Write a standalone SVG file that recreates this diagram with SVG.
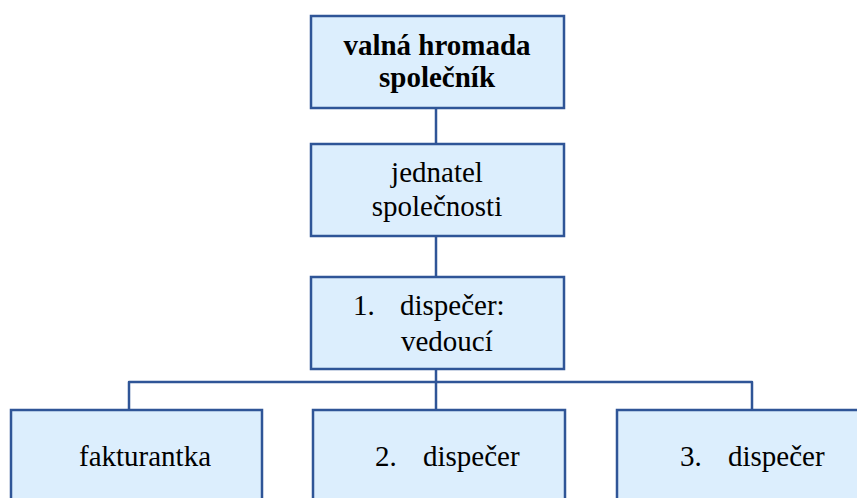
<svg xmlns="http://www.w3.org/2000/svg" width="857" height="498" viewBox="0 0 857 498">
<style>
.box{fill:#DCEEFD;stroke:#2F5597;stroke-width:2.5}
.conn{fill:none;stroke:#2F5597;stroke-width:2.5;stroke-linejoin:round}
.t{font-family:"Liberation Serif","DejaVu Serif",serif;font-size:29px;fill:#000}
.b{font-weight:bold}
.c{text-anchor:middle}
</style>
<rect width="857" height="498" fill="#fff"/>
<g id="connectors">
<line class="conn" x1="436" y1="108" x2="436" y2="144"/>
<line class="conn" x1="436" y1="236" x2="436" y2="277"/>
<line class="conn" x1="436" y1="369" x2="436" y2="410"/>
<path class="conn" d="M129,410 V382 H752 V410"/>
</g>
<g id="valna-hromada">
<rect class="box" x="311" y="16" width="253" height="92"/>
<text class="t b c" x="437" y="55">valná hromada</text>
<text class="t b c" x="437" y="87">společník</text>
</g>
<g id="jednatel">
<rect class="box" x="311" y="144" width="253" height="92"/>
<text class="t c" x="437" y="182">jednatel</text>
<text class="t c" x="437" y="216">společnosti</text>
</g>
<g id="dispecer1">
<rect class="box" x="311" y="277" width="253" height="92"/>
<text class="t" x="353" y="315">1.</text>
<text class="t" x="400" y="315">dispečer:</text>
<text class="t" x="401" y="351">vedoucí</text>
</g>
<g id="fakturantka">
<rect class="box" x="11" y="410" width="251" height="95"/>
<text class="t c" x="145" y="466">fakturantka</text>
</g>
<g id="dispecer2">
<rect class="box" x="313" y="410" width="252" height="95"/>
<text class="t" x="375" y="466">2.</text>
<text class="t" x="423" y="466">dispečer</text>
</g>
<g id="dispecer3">
<rect class="box" x="617" y="410" width="255" height="95"/>
<text class="t" x="680" y="466">3.</text>
<text class="t" x="728" y="466">dispečer</text>
</g>
</svg>
